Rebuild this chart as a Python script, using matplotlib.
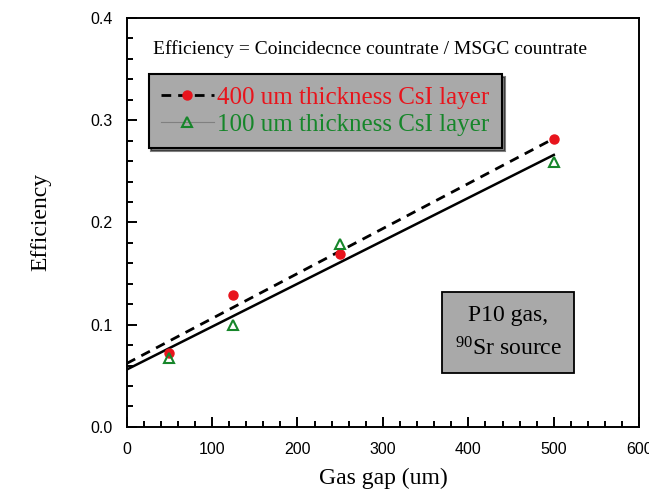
import matplotlib
matplotlib.use("Agg")
import matplotlib.pyplot as plt
from matplotlib.lines import Line2D
from matplotlib.ticker import MultipleLocator, FormatStrFormatter

# measured points
gap_um = [50, 125, 250, 500]
eff_400um = [0.072, 0.129, 0.169, 0.282]
eff_100um = [0.067, 0.100, 0.179, 0.259]

# fit lines (end points)
fit_x = [0, 500]
fit_400um = [0.062, 0.282]
fit_100um = [0.056, 0.266]

labels = ["400 um thickness CsI layer", "100 um thickness CsI layer"]
note_top = "Efficiency = Coincidecnce countrate / MSGC countrate"
note_box = "P10 gas,\n$^{90}$Sr source"

SERIF = "Liberation Serif"
SANS = "Liberation Sans"
RED = "#e8141c"
GREEN = "#16862a"
GRAY = "#a9a9a9"

plt.rcParams["mathtext.fontset"] = "custom"
plt.rcParams["mathtext.rm"] = SERIF
plt.rcParams["mathtext.it"] = SERIF + ":italic"

fig = plt.figure(figsize=(6.49, 4.97), dpi=100)
ax = fig.add_axes([0.195, 0.141, 0.790, 0.823])

ax.plot(fit_x, fit_400um, color="black", lw=2.0, ls=(0, (3.5, 2.5)))
ax.plot(fit_x, fit_100um, color="black", lw=1.8)
ax.plot(gap_um, eff_400um, "o", color=RED, ms=6.5, ls="none")
ax.plot(gap_um, eff_100um, "^", mfc="none", mec=GREEN, mew=1.5, ms=6.5, ls="none")

ax.set_xlim(0, 600)
ax.set_ylim(0, 0.4)
ax.xaxis.set_major_locator(MultipleLocator(100))
ax.xaxis.set_minor_locator(MultipleLocator(20))
ax.yaxis.set_major_locator(MultipleLocator(0.1))
ax.yaxis.set_minor_locator(MultipleLocator(0.02))
ax.yaxis.set_major_formatter(FormatStrFormatter("%.1f"))
ax.tick_params(which="both", direction="in", top=False, right=False, width=1.4)
ax.tick_params(which="major", length=7)
ax.tick_params(which="minor", length=4)
ax.tick_params(axis="x", pad=11)
ax.tick_params(axis="y", pad=10)
for lab in ax.get_xticklabels() + ax.get_yticklabels():
    lab.set_fontfamily(SANS)
    lab.set_fontsize(11.5)
for sp in ax.spines.values():
    sp.set_linewidth(1.4)

ax.set_xlabel("Gas gap (um)", fontfamily=SERIF, fontsize=17, labelpad=8)
ax.set_ylabel("Efficiency", fontfamily=SERIF, fontsize=17, labelpad=28)

ax.text(0.052, 0.925, note_top, transform=ax.transAxes, fontfamily=SERIF,
        fontsize=14, va="center", ha="left")

ax.text(0.744, 0.23, note_box, transform=ax.transAxes, fontfamily=SERIF,
        fontsize=17, ha="center", va="center", linespacing=1.6,
        bbox=dict(boxstyle="square,pad=0.55", fc=GRAY, ec="black", lw=1.3))

handles = [
    Line2D([], [], color="black", lw=2.0, ls=(0, (3.5, 2.5)), marker="o",
           mfc=RED, mec=RED, ms=6.5),
    Line2D([], [], color="#808080", lw=0.8, marker="^", mfc="none",
           mec=GREEN, mew=1.5, ms=6.5),
]
leg = ax.legend(handles, labels, loc="upper left", bbox_to_anchor=(0.043, 0.863),
                borderaxespad=0, prop={"family": SERIF, "size": 18},
                frameon=True, fancybox=False, shadow={"color": "black"},
                facecolor=GRAY, edgecolor="black", framealpha=1,
                handlelength=2.1, handletextpad=0.15, borderpad=0.5,
                labelspacing=0.18)
leg.get_frame().set_linewidth(1.5)
for txt, c in zip(leg.get_texts(), [RED, GREEN]):
    txt.set_color(c)

fig.savefig("out.png", dpi=100)
